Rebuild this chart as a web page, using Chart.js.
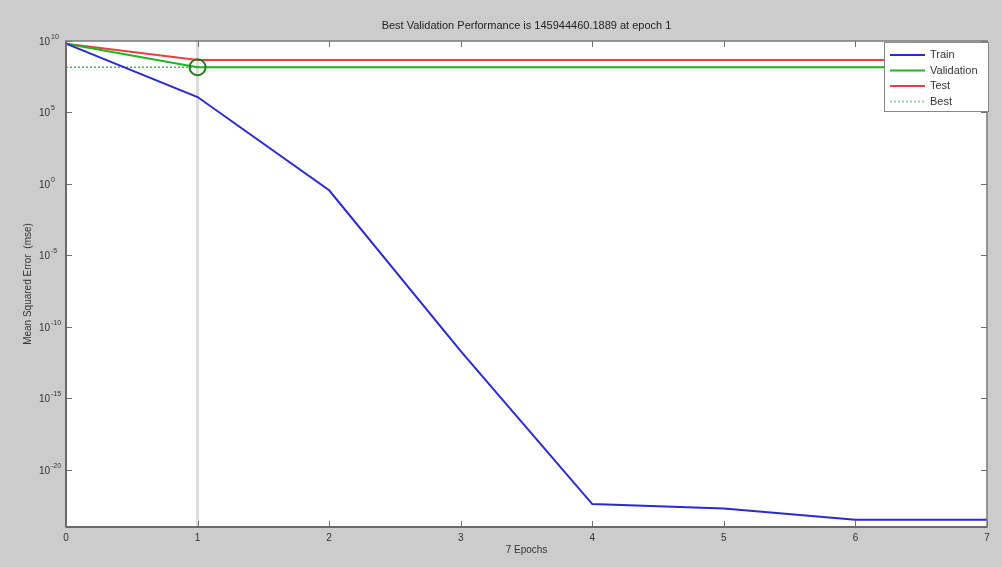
<!DOCTYPE html>
<html>
<head>
<meta charset="utf-8">
<script src="https://cdn.jsdelivr.net/npm/chart.js@4.4.1/dist/chart.umd.min.js"></script>
<style>
  html, body { margin: 0; padding: 0; background: #cccccc; }
  #wrap { width: 1002px; height: 567px; }
</style>
</head>
<body>
<div id="wrap"><canvas id="c" width="1002" height="567"></canvas></div>
<script>
// Training record: mean squared error per epoch
const epochs = [0, 1, 2, 3, 4, 5, 6, 7];
const trainMse = [6.5e9, 1.2e6, 0.36, 2.0e-12, 4.0e-23, 2.0e-23, 3.2e-24, 3.2e-24];
const validationMse = [6.5e9, 145944460.1889, 1.46e8, 1.46e8, 1.46e8, 1.46e8, 1.46e8, 1.46e8];
const testMse = [6.5e9, 4.7e8, 4.7e8, 4.7e8, 4.7e8, 4.7e8, 4.7e8, 4.7e8];
const bestEpoch = 1;
const bestValue = 145944460.1889;

const yTickValues = [1e-20, 1e-15, 1e-10, 1e-5, 1e0, 1e5, 1e10];
const yTickExponents = ['-20', '-15', '-10', '-5', '0', '5', '10'];
const xTickLabels = ['0', '1', '2', '3', '4', '5', '6', '7'];

const titleText = 'Best Validation Performance is 145944460.1889 at epoch 1';

const legendItems = [
  { label: 'Train', color: '#2a2ad0', dash: [] },
  { label: 'Validation', color: '#22b422', dash: [] },
  { label: 'Test', color: '#e84040', dash: [] },
  { label: 'Best', color: '#9ccf9c', dash: [2, 2] }
];

const toPoints = vals => epochs.map((e, i) => ({ x: e, y: vals[i] }));

const FONT = '"Liberation Sans", Arial, sans-serif';

// Axes box, inward tick marks, power-of-ten labels, title and legend panel
const decorations = {
  id: 'decorations',
  beforeDatasetsDraw(chart) {
    const { ctx, chartArea: a } = chart;
    ctx.save();
    ctx.fillStyle = '#ffffff';
    ctx.fillRect(a.left, a.top, a.right - a.left, a.bottom - a.top);
    ctx.restore();
  },
  afterDatasetsDraw(chart) {
    const { ctx, chartArea: a, scales } = chart;
    ctx.save();

    // title
    ctx.fillStyle = '#222222';
    ctx.font = '11px ' + FONT;
    ctx.textAlign = 'center';
    ctx.textBaseline = 'middle';
    ctx.fillText(titleText, (a.left + a.right) / 2, 26);

    // y tick labels as 10 with a raised exponent
    yTickValues.forEach((v, i) => {
      const y = scales.y.getPixelForValue(v);
      ctx.fillStyle = '#333333';
      ctx.font = '10px ' + FONT;
      ctx.textAlign = 'right';
      ctx.textBaseline = 'middle';
      ctx.fillText('10', 50, y + 1);
      ctx.font = '7px ' + FONT;
      ctx.textAlign = 'left';
      ctx.fillText(yTickExponents[i], 51, y - 4);
    });

    ctx.strokeStyle = '#6e6e6e';
    ctx.lineWidth = 1;
    // inward ticks
    ctx.beginPath();
    epochs.forEach(e => {
      const x = Math.round(scales.x.getPixelForValue(e)) + 0.5;
      ctx.moveTo(x, a.bottom); ctx.lineTo(x, a.bottom - 6);
      ctx.moveTo(x, a.top); ctx.lineTo(x, a.top + 6);
    });
    yTickValues.forEach(v => {
      const y = Math.round(scales.y.getPixelForValue(v)) + 0.5;
      ctx.moveTo(a.left, y); ctx.lineTo(a.left + 6, y);
      ctx.moveTo(a.right, y); ctx.lineTo(a.right - 6, y);
    });
    ctx.stroke();
    // box
    ctx.strokeStyle = '#7a7a7a';
    ctx.lineWidth = 1.5;
    ctx.strokeRect(a.left, a.top, a.right - a.left, a.bottom - a.top);
    ctx.strokeStyle = '#6a6a6a';
    ctx.lineWidth = 2;
    ctx.beginPath();
    ctx.moveTo(a.left, a.bottom); ctx.lineTo(a.right, a.bottom);
    ctx.moveTo(a.left, a.top); ctx.lineTo(a.left, a.bottom);
    ctx.stroke();

    // legend
    const lx = a.right - 103, ly = a.top + 1, lw = 104, lh = 69;
    ctx.fillStyle = '#ffffff';
    ctx.fillRect(lx, ly, lw, lh);
    ctx.strokeStyle = '#888888';
    ctx.lineWidth = 1;
    ctx.strokeRect(lx + 0.5, ly + 0.5, lw, lh);
    ctx.font = '11px ' + FONT;
    ctx.textBaseline = 'middle';
    ctx.textAlign = 'left';
    legendItems.forEach((it, i) => {
      const y = ly + 13 + i * 15.5;
      ctx.strokeStyle = it.color;
      ctx.lineWidth = 2;
      ctx.setLineDash(it.dash);
      ctx.beginPath();
      ctx.moveTo(lx + 6, y); ctx.lineTo(lx + 41, y);
      ctx.stroke();
      ctx.setLineDash([]);
      ctx.fillStyle = '#333333';
      ctx.fillText(it.label, lx + 46, y);
    });
    ctx.restore();
  }
};

new Chart(document.getElementById('c'), {
  type: 'scatter',
  data: {
    datasets: [
      {
        label: 'Best epoch',
        data: [{ x: bestEpoch, y: 1e-24 }, { x: bestEpoch, y: 1e10 }],
        showLine: true, borderColor: '#dcdcdc', borderWidth: 3, pointRadius: 0, order: 5
      },
      {
        label: 'Best',
        data: [{ x: 0, y: bestValue }, { x: 7, y: bestValue }],
        showLine: true, borderColor: '#44bb44', borderWidth: 1.5, borderDash: [2, 2], pointRadius: 0, order: 4
      },
      {
        label: 'Test',
        data: toPoints(testMse),
        showLine: true, borderColor: '#e84040', borderWidth: 2, pointRadius: 0, order: 3
      },
      {
        label: 'Validation',
        data: toPoints(validationMse),
        showLine: true, borderColor: '#22b422', borderWidth: 2, pointRadius: 0, order: 2
      },
      {
        label: 'Train',
        data: toPoints(trainMse),
        showLine: true, borderColor: '#2a2ad0', borderWidth: 2, pointRadius: 0, order: 1
      },
      {
        label: 'Best marker',
        data: [{ x: bestEpoch, y: bestValue }],
        showLine: false, pointRadius: 8, pointHoverRadius: 8,
        pointBackgroundColor: 'rgba(0,0,0,0)', pointBorderColor: '#1f7a1f', pointBorderWidth: 2, order: 0
      }
    ]
  },
  options: {
    responsive: false,
    animation: false,
    clip: false,
    layout: { padding: { left: 0, right: 15, top: 41, bottom: 0 } },
    plugins: {
      legend: { display: false },
      tooltip: { enabled: false },
      title: { display: false }
    },
    scales: {
      x: {
        type: 'linear', min: 0, max: 7,
        grid: { display: false, drawTicks: false },
        border: { display: false },
        afterBuildTicks: s => { s.ticks = epochs.map(v => ({ value: v })); },
        afterFit: s => { s.height = 40; },
        ticks: {
          padding: 5, color: '#333333', font: { family: FONT, size: 10 },
          maxRotation: 0, autoSkip: false,
          callback: (v) => xTickLabels[epochs.indexOf(v)]
        },
        title: {
          display: true, text: '7 Epochs', color: '#333333',
          font: { family: FONT, size: 10 }, padding: { top: 0, bottom: 11 }
        }
      },
      y: {
        type: 'logarithmic', min: 1e-24, max: 1e10,
        grid: { display: false, drawTicks: false },
        border: { display: false },
        afterBuildTicks: s => { s.ticks = yTickValues.map(v => ({ value: v })); },
        afterFit: s => { s.width = 66; },
        ticks: { display: false },
        title: {
          display: true, text: 'Mean Squared Error  (mse)', color: '#333333',
          font: { family: FONT, size: 10 }, padding: { top: 22, bottom: 0 }
        }
      }
    }
  },
  plugins: [decorations]
});
</script>
</body>
</html>
